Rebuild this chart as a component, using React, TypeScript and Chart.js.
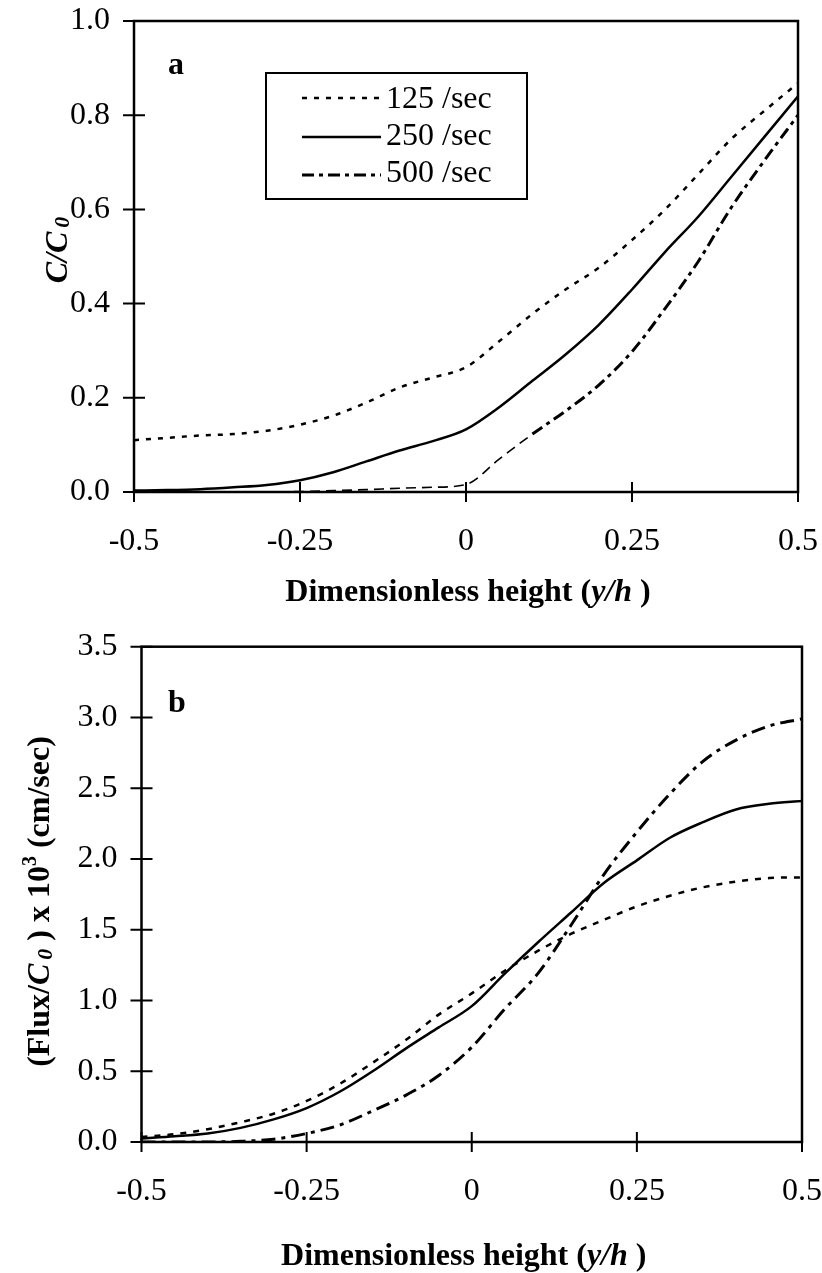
import React, { useEffect, useRef } from 'react';
import { Chart, registerables } from 'chart.js';

Chart.register(...registerables);

const SERIF = "'Liberation Serif', 'Times New Roman', Times, serif";

// Dimensionless height (y/h) sample positions
const heights = [-0.5, -0.45, -0.4, -0.35, -0.3, -0.25, -0.2, -0.15, -0.1, -0.05, 0, 0.05, 0.1, 0.15, 0.2, 0.25, 0.3, 0.35, 0.4, 0.45, 0.5];
const seriesNames = ['125 /sec', '250 /sec', '500 /sec'];

// Panel a: C/C0
const concRatio125 = [0.11, 0.115, 0.12, 0.123, 0.13, 0.143, 0.162, 0.19, 0.222, 0.243, 0.265, 0.32, 0.378, 0.43, 0.476, 0.535, 0.6, 0.675, 0.75, 0.81, 0.868];
const concRatio250 = [0.003, 0.004, 0.006, 0.01, 0.015, 0.025, 0.042, 0.065, 0.088, 0.108, 0.133, 0.18, 0.236, 0.292, 0.355, 0.43, 0.51, 0.585, 0.67, 0.755, 0.84];
const concRatio500 = [0, 0, 0, 0, 0, 0.001, 0.003, 0.005, 0.008, 0.01, 0.016, 0.07, 0.123, 0.172, 0.227, 0.298, 0.39, 0.49, 0.605, 0.705, 0.8];

// Panel b: (Flux/C0) x 10^3 (cm/sec)
const flux125 = [0.035, 0.055, 0.09, 0.14, 0.2, 0.29, 0.41, 0.56, 0.72, 0.9, 1.05, 1.21, 1.35, 1.47, 1.57, 1.665, 1.74, 1.8, 1.84, 1.865, 1.87];
const flux250 = [0.025, 0.04, 0.06, 0.1, 0.16, 0.24, 0.355, 0.5, 0.66, 0.81, 0.96, 1.19, 1.41, 1.62, 1.83, 1.99, 2.15, 2.26, 2.35, 2.39, 2.41];
const flux500 = [0, 0, 0, 0.005, 0.02, 0.06, 0.12, 0.22, 0.33, 0.47, 0.67, 0.94, 1.19, 1.53, 1.89, 2.19, 2.46, 2.69, 2.84, 2.94, 2.99];

// Tick values and labels
const xTickValues = [-0.5, -0.25, 0, 0.25, 0.5];
const xTickLabels = ['-0.5', '-0.25', '0', '0.25', '0.5'];
const yTickValuesA = [0, 0.2, 0.4, 0.6, 0.8, 1.0];
const yTickLabelsA = ['0.0', '0.2', '0.4', '0.6', '0.8', '1.0'];
const yTickValuesB = [0, 0.5, 1.0, 1.5, 2.0, 2.5, 3.0, 3.5];
const yTickLabelsB = ['0.0', '0.5', '1.0', '1.5', '2.0', '2.5', '3.0', '3.5'];

type Seg = { t: string; font: string; dy?: number; dx?: number };

function drawRich(ctx: CanvasRenderingContext2D, segs: Seg[], x: number, y: number) {
  let total = 0;
  const widths = segs.map((s) => {
    ctx.font = s.font;
    const w = ctx.measureText(s.t).width + (s.dx || 0);
    total += w;
    return w;
  });
  let cx = x - total / 2;
  ctx.textAlign = 'left';
  ctx.textBaseline = 'alphabetic';
  segs.forEach((s, i) => {
    ctx.font = s.font;
    ctx.fillText(s.t, cx + (s.dx || 0), y + (s.dy || 0));
    cx += widths[i];
  });
}

const B32 = `bold 32px ${SERIF}`;
const BI32 = `italic bold 32px ${SERIF}`;
const R32 = `32px ${SERIF}`;

interface DecorCfg {
  xTitle: Seg[];
  xTitleBaseline: number;
  xTitleDx: number;
  yTitle: Seg[];
  yTitleX: number;
  yTitleY: number;
  letter: string;
  letterX: number;
  letterY: number;
  legend?: {
    box: [number, number, number, number];
    lineX0: number;
    lineX1: number;
    lineYs: number[];
    textX: number;
    textYs: number[];
  };
  yTickValues: number[];
}

function makeDecor(cfg: DecorCfg) {
  return {
    id: 'decor',
    afterDatasetsDraw(chart: any) {
      const ctx: CanvasRenderingContext2D = chart.ctx;
      const { left, right, top, bottom } = chart.chartArea;
      const xs = chart.scales.x;
      const ys = chart.scales.y;
      ctx.save();
      ctx.setLineDash([]);
      ctx.strokeStyle = '#000';
      ctx.lineWidth = 2.5;
      ctx.strokeRect(left, top, right - left, bottom - top);
      ctx.lineWidth = 2;
      ctx.beginPath();
      cfg.yTickValues.forEach((v) => {
        const py = ys.getPixelForValue(v);
        ctx.moveTo(left - 11, py);
        ctx.lineTo(left + 11, py);
      });
      xTickValues.forEach((v) => {
        const px = xs.getPixelForValue(v);
        ctx.moveTo(px, bottom - 10);
        ctx.lineTo(px, bottom + 10);
      });
      ctx.stroke();

      ctx.fillStyle = '#000';
      drawRich(ctx, cfg.xTitle, (left + right) / 2 + cfg.xTitleDx, cfg.xTitleBaseline);
      ctx.save();
      ctx.translate(cfg.yTitleX, cfg.yTitleY);
      ctx.rotate(-Math.PI / 2);
      drawRich(ctx, cfg.yTitle, 0, 0);
      ctx.restore();
      ctx.font = B32;
      ctx.textAlign = 'left';
      ctx.textBaseline = 'alphabetic';
      ctx.fillText(cfg.letter, cfg.letterX, cfg.letterY);

      if (cfg.legend) {
        const lg = cfg.legend;
        const [bx0, by0, bx1, by1] = lg.box;
        ctx.fillStyle = '#fff';
        ctx.fillRect(bx0, by0, bx1 - bx0, by1 - by0);
        ctx.lineWidth = 2;
        ctx.strokeStyle = '#000';
        ctx.strokeRect(bx0, by0, bx1 - bx0, by1 - by0);
        chart.data.datasets.forEach((ds: any, i: number) => {
          ctx.save();
          ctx.lineWidth = ds.borderWidth;
          ctx.setLineDash(ds.borderDash || []);
          ctx.beginPath();
          ctx.moveTo(lg.lineX0, lg.lineYs[i]);
          ctx.lineTo(lg.lineX1, lg.lineYs[i]);
          ctx.stroke();
          ctx.restore();
          ctx.fillStyle = '#000';
          ctx.font = R32;
          ctx.textAlign = 'left';
          ctx.textBaseline = 'alphabetic';
          ctx.fillText(ds.label, lg.textX, lg.textYs[i]);
        });
      }
      ctx.restore();
    },
  };
}

interface PanelCfg {
  series: number[][];
  dashes: number[][];
  widths: number[];
  thinBelow?: number; // x below which the last series is drawn thin and dashed
  yMax: number;
  yTickValues: number[];
  yTickLabels: string[];
  yWidth: number;
  padding: { left: number; top: number; right: number; bottom: number };
  decor: DecorCfg;
}

function zeroPad(s: any) {
  s.paddingTop = 0;
  s.paddingBottom = 0;
  s.paddingLeft = 0;
  s.paddingRight = 0;
}

function buildConfig(p: PanelCfg): any {
  return {
    type: 'line',
    data: {
      datasets: p.series.map((vals, i) => {
        const ds: any = {
          label: seriesNames[i],
          data: heights.map((h, j) => ({ x: h, y: vals[j] })),
          borderColor: '#000',
          backgroundColor: '#000',
          borderWidth: p.widths[i],
          borderDash: p.dashes[i],
          pointRadius: 0,
          fill: false,
          cubicInterpolationMode: 'monotone',
        };
        if (p.thinBelow !== undefined && i === 2) {
          const lim = p.thinBelow;
          ds.segment = {
            borderWidth: (c: any) => (c.p0.parsed.x < lim ? 1.6 : undefined),
            borderDash: (c: any) => (c.p0.parsed.x < lim ? [10, 6] : undefined),
          };
        }
        return ds;
      }),
    },
    options: {
      responsive: false,
      animation: false,
      devicePixelRatio: 1,
      layout: { padding: p.padding },
      plugins: { legend: { display: false }, tooltip: { enabled: false } },
      scales: {
        x: {
          type: 'linear',
          min: -0.5,
          max: 0.5,
          afterBuildTicks: (s: any) => {
            s.ticks = xTickValues.map((v) => ({ value: v }));
          },
          afterFit: (s: any) => {
            s.height = 80;
            zeroPad(s);
          },
          ticks: {
            autoSkip: false,
            maxRotation: 0,
            minRotation: 0,
            padding: 30,
            color: '#000',
            font: { family: SERIF, size: 32 },
            callback: (v: number) => xTickLabels[Math.round((v + 0.5) / 0.25)],
          },
          grid: { display: false, drawTicks: false },
          border: { display: false },
        },
        y: {
          type: 'linear',
          min: 0,
          max: p.yMax,
          afterBuildTicks: (s: any) => {
            s.ticks = p.yTickValues.map((v) => ({ value: v }));
          },
          afterFit: (s: any) => {
            s.width = p.yWidth;
            zeroPad(s);
          },
          ticks: {
            autoSkip: false,
            padding: 24,
            color: '#000',
            font: { family: SERIF, size: 32 },
            callback: (v: number) => p.yTickLabels[p.yTickValues.findIndex((t) => Math.abs(t - v) < 1e-6)],
          },
          grid: { display: false, drawTicks: false },
          border: { display: false },
        },
      },
    },
    plugins: [makeDecor(p.decor)],
  };
}

const panelA: PanelCfg = {
  series: [concRatio125, concRatio250, concRatio500],
  dashes: [[5, 7], [], [12, 5, 4, 5]],
  widths: [2.5, 2.5, 3],
  thinBelow: 0.1,
  yMax: 1,
  yTickValues: yTickValuesA,
  yTickLabels: yTickLabelsA,
  yWidth: 134,
  padding: { left: 0, top: 21, right: 24, bottom: 640 - 492 - 80 },
  decor: {
    xTitle: [
      { t: 'Dimensionless height (', font: B32 },
      { t: 'y/h', font: BI32 },
      { t: ' )', font: B32 },
    ],
    xTitleBaseline: 601,
    xTitleDx: 2,
    yTitle: [
      { t: 'C/C', font: BI32 },
      { t: '0', font: `italic bold 22px ${SERIF}`, dy: 2, dx: 4 },
    ],
    yTitleX: 67,
    yTitleY: 250,
    letter: 'a',
    letterX: 168,
    letterY: 74,
    legend: {
      box: [266, 73, 527, 199],
      lineX0: 302,
      lineX1: 381,
      lineYs: [98, 137, 175],
      textX: 386,
      textYs: [108, 145, 182],
    },
    yTickValues: yTickValuesA,
  },
};

const B_TOP = 620;
const panelB: PanelCfg = {
  series: [flux125, flux250, flux500],
  dashes: [[6, 7], [], [14, 6, 4, 6]],
  widths: [2.5, 2.5, 3],
  yMax: 3.5,
  yTickValues: yTickValuesB,
  yTickLabels: yTickLabelsB,
  yWidth: 141.5,
  padding: { left: 0, top: 646.7 - B_TOP, right: 20, bottom: 653 - (1142 - B_TOP) - 80 },
  decor: {
    xTitle: [
      { t: 'Dimensionless height (', font: B32 },
      { t: 'y/h', font: BI32 },
      { t: ' )', font: B32 },
    ],
    xTitleBaseline: 1265 - B_TOP,
    xTitleDx: -8,
    yTitle: [
      { t: '(Flux/', font: B32 },
      { t: 'C', font: BI32 },
      { t: '0', font: `italic bold 22px ${SERIF}`, dy: 3, dx: 4 },
      { t: ' ) x 10', font: B32 },
      { t: '3', font: `bold 20px ${SERIF}`, dy: -13 },
      { t: ' (cm/sec)', font: B32 },
    ],
    yTitleX: 49,
    yTitleY: 901.5 - B_TOP,
    letter: 'b',
    letterX: 168,
    letterY: 712 - B_TOP,
    yTickValues: yTickValuesB,
  },
};

function Panel({ cfg, top, height }: { cfg: PanelCfg; top: number; height: number }) {
  const ref = useRef<HTMLCanvasElement | null>(null);
  useEffect(() => {
    if (!ref.current) return;
    const chart = new Chart(ref.current, buildConfig(cfg));
    return () => chart.destroy();
  }, [cfg]);
  return (
    <canvas
      ref={ref}
      width={822}
      height={height}
      style={{ position: 'absolute', left: 0, top, width: 822, height, display: 'block' }}
    />
  );
}

export default function App() {
  return (
    <div style={{ position: 'absolute', left: 0, top: 0, width: 822, height: 1273, background: '#fff', overflow: 'hidden' }}>
      <Panel cfg={panelA} top={0} height={640} />
      <Panel cfg={panelB} top={B_TOP} height={653} />
    </div>
  );
}
